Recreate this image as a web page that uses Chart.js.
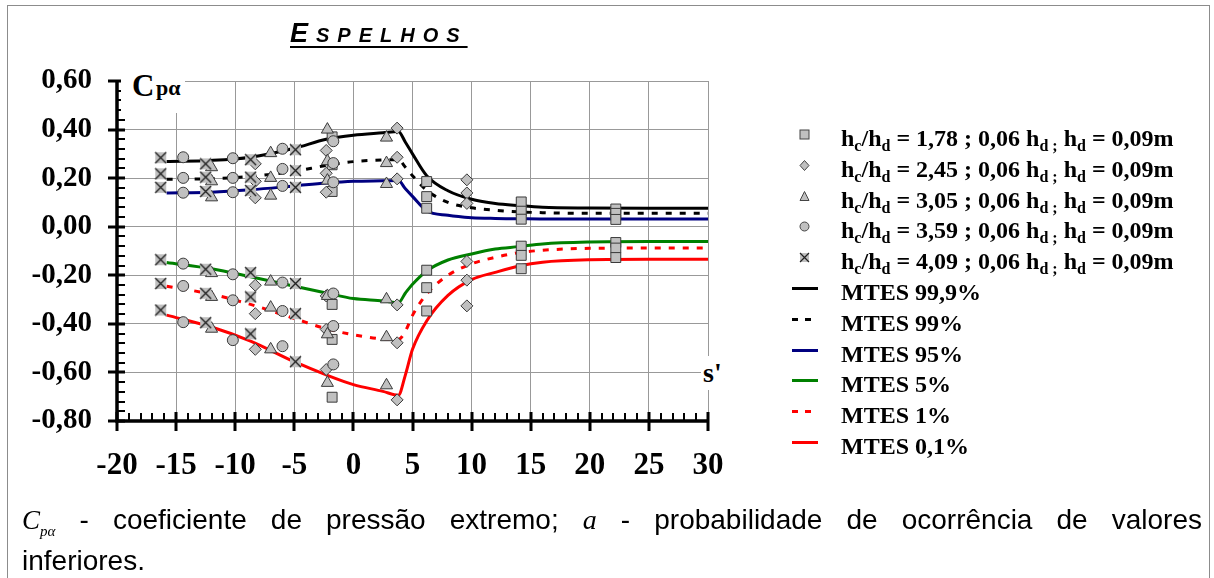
<!DOCTYPE html>
<html>
<head>
<meta charset="utf-8">
<script src="https://cdn.jsdelivr.net/npm/chart.js@4.4.1/dist/chart.umd.min.js"></script>
<style>
  html, body { margin: 0; padding: 0; background: #fff; }
  body { width: 1214px; height: 578px; position: relative; overflow: hidden; font-family: "Liberation Serif", serif; }
  #frame { position: absolute; left: 7px; top: 5px; width: 1201px; height: 600px; border: 1px solid #8c8c8c; }
  #chart { position: absolute; left: 0; top: 0; }
  .box { position: absolute; background: #fff; font-weight: bold; color: #000; white-space: nowrap; }
  .row { position: absolute; left: 786px; width: 420px; height: 30px; line-height: 30px; font-weight: bold; font-size: 24px; white-space: nowrap; }
  .row svg { position: absolute; left: 4px; top: 6px; }
  .row span { position: absolute; left: 55px; top: 0; }
  .row sub { font-size: 16px; vertical-align: -5px; line-height: 0; }
  #title { position: absolute; left: 290px; top: 18px; font-family: "Liberation Sans", Arial, sans-serif; font-style: italic; font-weight: bold; letter-spacing: 8px; text-decoration: underline; text-decoration-thickness: 2px; text-underline-offset: 4px; }
  .cap { position: absolute; left: 22px; width: 1180px; height: 43px; font-family: "Liberation Sans", Arial, sans-serif; font-size: 28px; line-height: 43px; color: #000; white-space: nowrap; }
  .cap.l1 { text-align: justify; text-align-last: justify; white-space: normal; }
  .cap i { font-family: "Liberation Serif", serif; line-height: 0; }
</style>
</head>
<body>
<div id="frame"></div>
<canvas id="chart" width="1214" height="578"></canvas>

<div id="title"><span style="font-size:27px">E</span><span style="font-size:20px">SPELHOS</span></div>

<div class="box" style="left:121px; top:60px; width:64px; height:53px; font-size:31px; line-height:31px;">
  <span style="position:absolute; left:11px; top:10px;">C</span><span style="position:absolute; left:35px; top:17px; font-size:22px; line-height:22px;">pα</span>
</div>
<div class="box" style="left:701px; top:356px; font-size:28px; line-height:34px; padding:0 2px;">s'</div>

<div id="legend"></div>

<div class="cap l1" style="top:498px"><i style="font-size:27px">C</i><i style="font-size:15px; vertical-align:-7px">pα</i> - coeficiente de pressão extremo; <i>a</i> - probabilidade de ocorrência de valores</div>
<div class="cap" style="top:539px">inferiores.</div>

<script>
// axis limits
const xMin = -20, xMax = 30;
const yMin = -0.8, yMax = 0.6;

// measured points: x position and the six values read at that position
const sq178X = [-1.8, 6.2, 14.2, 22.2];
const sq178Y = [
  [0.37, 0.255, 0.145, -0.32, -0.464, -0.702],
  [0.186, 0.124, 0.076, -0.179, -0.251, -0.347],
  [0.102, 0.064, 0.031, -0.08, -0.118, -0.173],
  [0.073, 0.055, 0.03, -0.065, -0.088, -0.127]
];
const di245X = [-8.3, -2.3, 3.7, 9.6];
const di245Y = [
  [0.259, 0.187, 0.119, -0.241, -0.358, -0.505],
  [0.314, 0.22, 0.142, -0.285, -0.423, -0.588],
  [0.406, 0.286, 0.197, -0.322, -0.478, -0.713],
  [0.193, 0.139, 0.096, -0.143, -0.22, -0.326]
];
const tr305X = [-12.0, -7.0, -2.2, 2.8];
const tr305Y = [
  [0.245, 0.187, 0.121, -0.191, -0.289, -0.42],
  [0.303, 0.201, 0.128, -0.226, -0.333, -0.505],
  [0.40, 0.27, 0.19, -0.285, -0.443, -0.643],
  [0.367, 0.262, 0.176, -0.299, -0.455, -0.653]
];
const ci359X = [-14.4, -10.2, -6.0, -1.7];
const ci359Y = [
  [0.286, 0.201, 0.14, -0.152, -0.244, -0.393],
  [0.282, 0.201, 0.142, -0.196, -0.303, -0.467],
  [0.321, 0.238, 0.168, -0.23, -0.347, -0.492],
  [0.352, 0.262, 0.183, -0.275, -0.409, -0.567]
];
const xx409X = [-16.3, -12.5, -8.7, -4.9];
const xx409Y = [
  [0.284, 0.218, 0.162, -0.136, -0.234, -0.343],
  [0.259, 0.204, 0.145, -0.175, -0.274, -0.395],
  [0.276, 0.204, 0.149, -0.189, -0.289, -0.441],
  [0.317, 0.231, 0.162, -0.234, -0.358, -0.556]
];

// MTES curves, sampled
const lineX   = [-15.8, -12, -8.7, -5, -2.3, 0, 2.5, 3.8, 4.4, 5, 6.2, 8, 10, 12, 14, 16, 20, 25, 30];
const mtes999 = [0.269, 0.273, 0.286, 0.323, 0.36, 0.377, 0.387, 0.392, 0.348, 0.30, 0.21, 0.148, 0.113, 0.096, 0.087, 0.08, 0.077, 0.076, 0.076];
const mtes99  = [0.195, 0.198, 0.207, 0.228, 0.252, 0.268, 0.275, 0.276, 0.245, 0.21, 0.15, 0.10, 0.078, 0.068, 0.061, 0.058, 0.055, 0.055, 0.055];
const mtes95  = [0.139, 0.142, 0.152, 0.168, 0.18, 0.187, 0.189, 0.19, 0.156, 0.125, 0.066, 0.047, 0.037, 0.034, 0.033, 0.032, 0.032, 0.032, 0.032];
const mtes5   = [-0.147, -0.173, -0.206, -0.245, -0.273, -0.296, -0.305, -0.313, -0.273, -0.237, -0.182, -0.137, -0.112, -0.092, -0.082, -0.071, -0.063, -0.061, -0.061];
const mtes1   = [-0.245, -0.278, -0.32, -0.378, -0.42, -0.445, -0.462, -0.464, -0.43, -0.365, -0.277, -0.20, -0.153, -0.126, -0.107, -0.097, -0.089, -0.088, -0.088];
const mtes01  = [-0.364, -0.413, -0.471, -0.556, -0.61, -0.65, -0.678, -0.694, -0.61, -0.505, -0.388, -0.283, -0.218, -0.188, -0.162, -0.146, -0.136, -0.134, -0.134];

const fill = '#c0c0c0', edge = '#3a3a3a';

function pts(xs, ys) {
  const out = [];
  xs.forEach((x, i) => ys[i].forEach(v => out.push({ x: x, y: v })));
  return out;
}
function curve(vals) {
  return lineX.map((x, i) => ({ x: x, y: vals[i] }));
}

// gray box with an X, for the 4,09 series
function crossBox(s) {
  const c = document.createElement('canvas');
  c.width = s; c.height = s;
  const g = c.getContext('2d');
  g.fillStyle = fill;
  g.fillRect(1, 1, s - 2, s - 2);
  g.strokeStyle = '#222';
  g.lineWidth = 1.4;
  g.beginPath();
  g.moveTo(1, 1); g.lineTo(s - 1, s - 1);
  g.moveTo(s - 1, 1); g.lineTo(1, s - 1);
  g.stroke();
  return c;
}

function markerSet(data, style, r) {
  return { data: data, pointStyle: style, pointRadius: r, backgroundColor: fill,
           borderColor: edge, borderWidth: 1, showLine: false, order: 1 };
}
function lineSet(vals, color, dash) {
  return { data: curve(vals), borderColor: color, borderWidth: 3, borderDash: dash || [],
           pointRadius: 0, showLine: true, cubicInterpolationMode: 'monotone', order: 2 };
}

const axisPlugin = {
  id: 'axisTicks',
  afterDraw(chart) {
    const { ctx, chartArea: a, scales: { x, y } } = chart;
    ctx.save();
    ctx.strokeStyle = '#000';
    ctx.lineWidth = 2;
    ctx.beginPath();
    for (let v = xMin; v <= xMax; v += 1) {
      const px = Math.round(x.getPixelForValue(v));
      ctx.moveTo(px, a.bottom); ctx.lineTo(px, a.bottom - 8);
    }
    for (let i = 0; i <= 35; i++) {
      const py = Math.round(y.getPixelForValue(yMin + i * 0.04));
      ctx.moveTo(a.left, py); ctx.lineTo(a.left + 8, py);
    }
    ctx.stroke();
    ctx.lineWidth = 3;
    ctx.beginPath();
    for (let v = xMin; v <= xMax; v += 5) {
      const px = Math.round(x.getPixelForValue(v));
      ctx.moveTo(px, a.bottom - 9); ctx.lineTo(px, a.bottom + 10);
    }
    for (let i = 0; i <= 7; i++) {
      const py = Math.round(y.getPixelForValue(yMin + i * 0.2));
      ctx.moveTo(a.left - 9, py); ctx.lineTo(a.left + 8, py);
    }
    ctx.stroke();
    ctx.lineWidth = 3.5;
    ctx.beginPath();
    ctx.moveTo(a.left, a.top); ctx.lineTo(a.left, a.bottom); ctx.lineTo(a.right, a.bottom);
    ctx.stroke();
    ctx.restore();
  }
};

new Chart(document.getElementById('chart'), {
  type: 'scatter',
  data: {
    datasets: [
      markerSet(pts(xx409X, xx409Y), crossBox(13), 6),
      markerSet(pts(ci359X, ci359Y), 'circle', 5.5),
      markerSet(pts(tr305X, tr305Y), 'triangle', 7),
      markerSet(pts(di245X, di245Y), 'rectRot', 6),
      markerSet(pts(sq178X, sq178Y), 'rect', 7),
      lineSet(mtes999, '#000000'),
      lineSet(mtes99, '#000000', [6, 8]),
      lineSet(mtes95, '#000080'),
      lineSet(mtes5, '#008000'),
      lineSet(mtes1, '#ff0000', [6, 8]),
      lineSet(mtes01, '#ff0000')
    ]
  },
  options: {
    responsive: false,
    animation: false,
    layout: { padding: { left: 0, top: 81, right: 506, bottom: 97 } },
    plugins: { legend: { display: false }, tooltip: { enabled: false } },
    scales: {
      x: {
        min: xMin, max: xMax,
        afterFit: s => { s.height = 60; },
        border: { display: false },
        grid: { color: '#999', lineWidth: 1, drawTicks: false },
        ticks: { stepSize: 5, padding: 26, color: '#000',
                 font: { family: 'Liberation Serif', weight: 'bold', size: 31 } }
      },
      y: {
        min: yMin, max: yMax,
        afterFit: s => { s.width = 117; },
        border: { display: false },
        grid: { color: '#999', lineWidth: 1, drawTicks: false },
        ticks: { stepSize: 0.2, padding: 25, color: '#000',
                 font: { family: 'Liberation Serif', weight: 'bold', size: 29 },
                 callback: v => (Math.abs(v) < 1e-9 ? 0 : v).toFixed(2).replace('.', ',') }
      }
    }
  },
  plugins: [axisPlugin]
});

// legend (html so the subscripts stay as text)
const hdTail = ' ; 0,06 h<sub>d ;</sub> h<sub>d</sub> = 0,09m';
const legendRows = [
  ['sq', 'h<sub>c</sub>/h<sub>d</sub> = 1,78' + hdTail],
  ['di', 'h<sub>c</sub>/h<sub>d</sub> = 2,45' + hdTail],
  ['tr', 'h<sub>c</sub>/h<sub>d</sub> = 3,05' + hdTail],
  ['ci', 'h<sub>c</sub>/h<sub>d</sub> = 3,59' + hdTail],
  ['xx', 'h<sub>c</sub>/h<sub>d</sub> = 4,09' + hdTail],
  ['l:#000000', 'MTES 99,9%'],
  ['d:#000000', 'MTES 99%'],
  ['l:#000080', 'MTES 95%'],
  ['l:#008000', 'MTES 5%'],
  ['d:#ff0000', 'MTES 1%'],
  ['l:#ff0000', 'MTES 0,1%']
];
const sym = {
  sq: '<rect x="10" y="1" width="9" height="9" fill="#c0c0c0" stroke="#444"/>',
  di: '<path d="M14.5 0.5 L19 5.5 L14.5 10.5 L10 5.5 Z" fill="#c0c0c0" stroke="#444"/>',
  tr: '<path d="M14.5 0.5 L19 9.5 L10 9.5 Z" fill="#c0c0c0" stroke="#444"/>',
  ci: '<circle cx="14.5" cy="5.5" r="4.5" fill="#c0c0c0" stroke="#444"/>',
  xx: '<rect x="10" y="1" width="9" height="9" fill="#c0c0c0"/><path d="M10 1 L19 10 M19 1 L10 10" stroke="#222" stroke-width="1.2"/>'
};
const legendEl = document.getElementById('legend');
legendRows.forEach((r, i) => {
  let svg;
  if (r[0].startsWith('l:')) svg = `<line x1="2" y1="5.5" x2="28" y2="5.5" stroke="${r[0].slice(2)}" stroke-width="3"/>`;
  else if (r[0].startsWith('d:')) svg = `<line x1="2" y1="5.5" x2="22" y2="5.5" stroke="${r[0].slice(2)}" stroke-width="3" stroke-dasharray="6,7"/>`;
  else svg = sym[r[0]];
  const row = document.createElement('div');
  row.className = 'row';
  row.style.top = (123 + i * 30.8) + 'px';
  row.innerHTML = `<svg width="30" height="12" viewBox="0 0 30 12">${svg}</svg><span>${r[1]}</span>`;
  legendEl.appendChild(row);
});
</script>
</body>
</html>
